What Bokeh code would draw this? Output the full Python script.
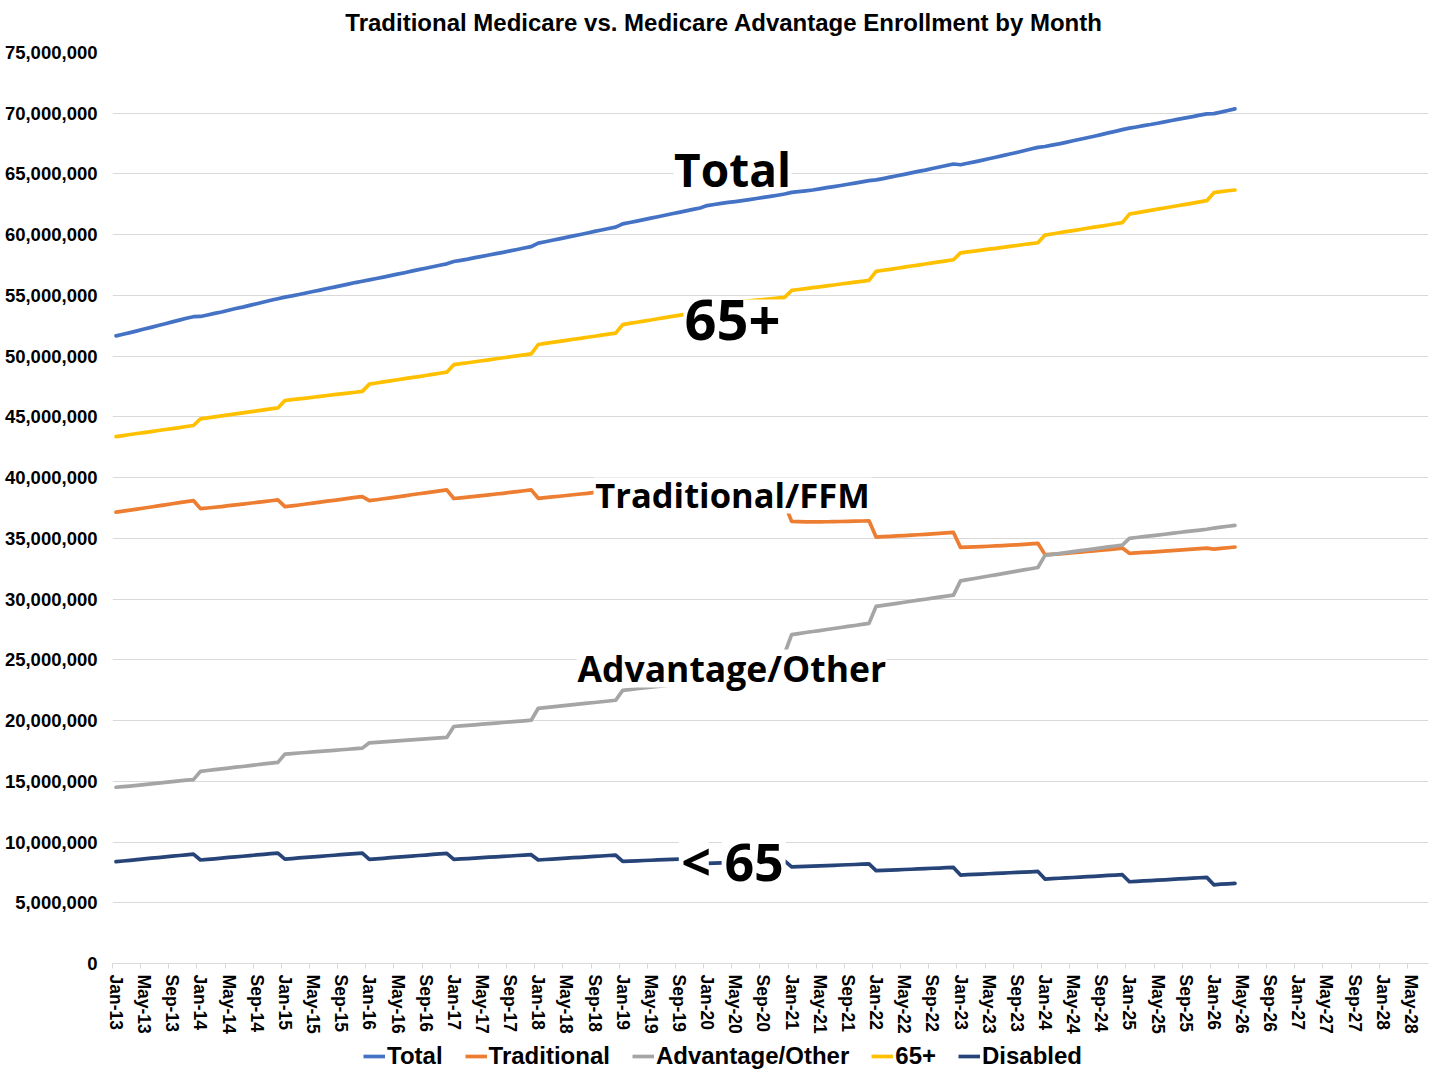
from bokeh.plotting import figure
from bokeh.layouts import column
from bokeh.models import (ColumnDataSource, Range1d, FixedTicker, NumeralTickFormatter,
                          Legend, LegendItem, Label)
from bokeh.embed import file_html
from bokeh.resources import INLINE

# ---------------- data (millions of enrollees, monthly Jan-13 .. Apr-26) ----------------
traditional = [
    37.16, 37.24, 37.33, 37.41, 37.50, 37.58, 37.67, 37.76, 37.85, 37.94, 38.03, 38.11,
    37.45, 37.50, 37.56, 37.62, 37.69, 37.76, 37.82, 37.89, 37.96, 38.03, 38.10, 38.17,
    37.62, 37.68, 37.75, 37.83, 37.90, 37.98, 38.06, 38.13, 38.21, 38.29, 38.37, 38.44,
    38.11, 38.18, 38.26, 38.34, 38.42, 38.50, 38.59, 38.67, 38.75, 38.83, 38.91, 38.99,
    38.28, 38.33, 38.39, 38.46, 38.52, 38.58, 38.65, 38.71, 38.78, 38.85, 38.92, 38.99,
    38.30, 38.35, 38.41, 38.47, 38.53, 38.59, 38.65, 38.71, 38.78, 38.84, 38.90, 38.95,
    38.40, 38.45, 38.50, 38.56, 38.61, 38.67, 38.72, 38.78, 38.83, 38.89, 38.94, 39.00,
    38.20, 38.17, 38.14, 38.10, 38.06, 38.02, 37.98, 37.95, 37.92, 37.89, 37.87, 37.85,
    36.40, 36.38, 36.36, 36.35, 36.36, 36.37, 36.38, 36.39, 36.40, 36.42, 36.43, 36.45,
    35.11, 35.14, 35.17, 35.20, 35.23, 35.27, 35.30, 35.33, 35.37, 35.41, 35.45, 35.49,
    34.26, 34.28, 34.30, 34.32, 34.35, 34.38, 34.41, 34.44, 34.47, 34.51, 34.55, 34.59,
    33.66, 33.69, 33.73, 33.77, 33.82, 33.87, 33.92, 33.97, 34.02, 34.08, 34.14, 34.20,
    33.77, 33.80, 33.84, 33.87, 33.91, 33.95, 33.99, 34.03, 34.07, 34.11, 34.16, 34.20,
    34.12, 34.17, 34.23, 34.29,
]

advantage = [
    14.51, 14.56, 14.61, 14.67, 14.73, 14.79, 14.85, 14.91, 14.97, 15.03, 15.09, 15.14,
    15.82, 15.89, 15.96, 16.02, 16.09, 16.16, 16.22, 16.29, 16.36, 16.43, 16.50, 16.56,
    17.24, 17.28, 17.33, 17.37, 17.42, 17.46, 17.51, 17.55, 17.60, 17.64, 17.69, 17.73,
    18.17, 18.21, 18.25, 18.29, 18.33, 18.37, 18.41, 18.45, 18.49, 18.53, 18.57, 18.61,
    19.51, 19.56, 19.60, 19.65, 19.70, 19.75, 19.79, 19.84, 19.89, 19.93, 19.98, 20.03,
    21.01, 21.07, 21.13, 21.19, 21.25, 21.31, 21.37, 21.43, 21.49, 21.55, 21.61, 21.67,
    22.49, 22.55, 22.62, 22.68, 22.75, 22.81, 22.88, 22.94, 23.01, 23.07, 23.14, 23.20,
    24.20, 24.32, 24.44, 24.56, 24.67, 24.79, 24.91, 25.03, 25.15, 25.27, 25.38, 25.50,
    27.08, 27.16, 27.25, 27.33, 27.41, 27.50, 27.58, 27.66, 27.75, 27.83, 27.92, 28.00,
    29.40, 29.48, 29.57, 29.65, 29.74, 29.82, 29.91, 29.99, 30.08, 30.16, 30.25, 30.33,
    31.50, 31.60, 31.70, 31.80, 31.90, 32.00, 32.10, 32.20, 32.30, 32.40, 32.50, 32.60,
    33.60, 33.68, 33.75, 33.83, 33.91, 33.99, 34.06, 34.14, 34.22, 34.30, 34.37, 34.45,
    35.00, 35.07, 35.14, 35.20, 35.27, 35.34, 35.41, 35.48, 35.55, 35.61, 35.68, 35.75,
    35.85, 35.92, 36.00, 36.07,
]

total = [
    51.67, 51.80, 51.94, 52.08, 52.23, 52.37, 52.52, 52.67, 52.82, 52.97, 53.12, 53.25,
    53.27, 53.39, 53.52, 53.64, 53.78, 53.92, 54.04, 54.18, 54.32, 54.46, 54.60, 54.73,
    54.86, 54.96, 55.08, 55.20, 55.32, 55.44, 55.57, 55.68, 55.81, 55.93, 56.06, 56.17,
    56.28, 56.39, 56.51, 56.63, 56.75, 56.87, 57.00, 57.12, 57.24, 57.36, 57.48, 57.60,
    57.79, 57.89, 57.99, 58.11, 58.22, 58.33, 58.44, 58.55, 58.67, 58.78, 58.90, 59.02,
    59.31, 59.42, 59.54, 59.66, 59.78, 59.90, 60.02, 60.14, 60.27, 60.39, 60.51, 60.62,
    60.89, 61.00, 61.12, 61.24, 61.36, 61.48, 61.60, 61.72, 61.84, 61.96, 62.08, 62.20,
    62.40, 62.49, 62.58, 62.66, 62.73, 62.81, 62.89, 62.98, 63.07, 63.16, 63.25, 63.35,
    63.48, 63.54, 63.61, 63.68, 63.77, 63.87, 63.96, 64.05, 64.15, 64.25, 64.35, 64.45,
    64.51, 64.62, 64.74, 64.85, 64.97, 65.09, 65.21, 65.32, 65.45, 65.57, 65.70, 65.82,
    65.76, 65.88, 66.00, 66.12, 66.25, 66.38, 66.51, 66.64, 66.77, 66.91, 67.05, 67.19,
    67.26, 67.37, 67.48, 67.60, 67.73, 67.86, 67.98, 68.11, 68.24, 68.38, 68.51, 68.65,
    68.77, 68.87, 68.98, 69.07, 69.18, 69.29, 69.40, 69.51, 69.62, 69.72, 69.84, 69.95,
    69.97, 70.09, 70.23, 70.36,
]

age65plus = [
    43.38, 43.46, 43.55, 43.63, 43.71, 43.79, 43.88, 43.96, 44.04, 44.12, 44.21, 44.29,
    44.84, 44.92, 45.00, 45.09, 45.17, 45.25, 45.33, 45.41, 45.49, 45.58, 45.66, 45.74,
    46.35, 46.42, 46.49, 46.55, 46.62, 46.69, 46.76, 46.83, 46.89, 46.96, 47.03, 47.10,
    47.70, 47.79, 47.88, 47.97, 48.06, 48.15, 48.23, 48.32, 48.41, 48.50, 48.59, 48.68,
    49.30, 49.38, 49.46, 49.54, 49.62, 49.70, 49.79, 49.87, 49.95, 50.03, 50.11, 50.19,
    50.96, 51.05, 51.13, 51.22, 51.30, 51.39, 51.47, 51.56, 51.64, 51.73, 51.81, 51.90,
    52.60, 52.70, 52.79, 52.89, 52.98, 53.08, 53.17, 53.27, 53.36, 53.46, 53.55, 53.65,
    54.20, 54.26, 54.32, 54.37, 54.43, 54.49, 54.55, 54.61, 54.66, 54.72, 54.78, 54.84,
    55.41, 55.49, 55.56, 55.64, 55.71, 55.79, 55.86, 55.94, 56.01, 56.09, 56.16, 56.24,
    56.98, 57.07, 57.15, 57.24, 57.33, 57.42, 57.50, 57.59, 57.68, 57.76, 57.85, 57.94,
    58.50, 58.58, 58.65, 58.73, 58.81, 58.88, 58.96, 59.04, 59.11, 59.19, 59.26, 59.34,
    59.97, 60.06, 60.16, 60.25, 60.34, 60.43, 60.53, 60.62, 60.71, 60.80, 60.90, 60.99,
    61.70, 61.80, 61.90, 62.00, 62.10, 62.20, 62.30, 62.40, 62.50, 62.60, 62.70, 62.80,
    63.46, 63.55, 63.62, 63.68,
]

disabled = [
    8.38, 8.44, 8.49, 8.55, 8.61, 8.67, 8.72, 8.78, 8.84, 8.89, 8.95, 9.01,
    8.52, 8.57, 8.62, 8.68, 8.73, 8.78, 8.83, 8.88, 8.94, 8.99, 9.04, 9.09,
    8.60, 8.64, 8.69, 8.73, 8.78, 8.82, 8.87, 8.91, 8.96, 9.00, 9.05, 9.09,
    8.57, 8.62, 8.66, 8.71, 8.75, 8.80, 8.84, 8.89, 8.93, 8.98, 9.02, 9.07,
    8.57, 8.61, 8.64, 8.68, 8.71, 8.75, 8.78, 8.82, 8.85, 8.89, 8.92, 8.96,
    8.52, 8.56, 8.59, 8.63, 8.67, 8.71, 8.74, 8.78, 8.82, 8.85, 8.89, 8.93,
    8.40, 8.43, 8.45, 8.48, 8.50, 8.53, 8.55, 8.58, 8.60, 8.63, 8.65, 8.68,
    8.25, 8.27, 8.29, 8.31, 8.33, 8.35, 8.36, 8.38, 8.40, 8.42, 8.43, 8.45,
    7.95, 7.97, 7.99, 8.02, 8.04, 8.06, 8.08, 8.11, 8.13, 8.15, 8.18, 8.20,
    7.64, 7.66, 7.69, 7.71, 7.74, 7.76, 7.79, 7.81, 7.84, 7.86, 7.89, 7.91,
    7.28, 7.31, 7.33, 7.36, 7.39, 7.42, 7.44, 7.47, 7.50, 7.53, 7.55, 7.58,
    6.95, 6.98, 7.02, 7.05, 7.08, 7.11, 7.15, 7.18, 7.21, 7.25, 7.28, 7.31,
    6.73, 6.76, 6.80, 6.83, 6.86, 6.89, 6.93, 6.96, 6.99, 7.03, 7.06, 7.09,
    6.48, 6.53, 6.56, 6.59,
]

# category axis: Jan-13 .. Jul-28 (labels every 4 months)
tick_months = ["Jan", "May", "Sep"]
tick_years = list(range(13, 29))
tick_labels = [f"{m}-{y:02d}" for y in tick_years for m in tick_months][:47]
n_categories = 187

series_names = ["Total", "Traditional", "Advantage/Other", "65+", "Disabled"]
series_colors = ["#4472C4", "#ED7D31", "#A5A5A5", "#FFC000", "#264478"]
series_values = [total, traditional, advantage, age65plus, disabled]

title_text = "Traditional Medicare vs. Medicare Advantage Enrollment by Month"

W = 1430
BL, BR = 112, 2
TITLE_H = 36


def strip(height):
    f = figure(width=W, height=height, output_backend="svg", toolbar_location=None,
               x_range=Range1d(0, 1), y_range=Range1d(0, 1), min_border=0,
               min_border_left=BL, min_border_right=BR)
    f.axis.visible = False
    f.grid.visible = False
    f.outline_line_color = None
    f.background_fill_color = "white"
    f.border_fill_color = "white"
    return f


# ---------------- title strip ----------------
tp = strip(TITLE_H)
tp.add_layout(Label(x=0.4647, y=(TITLE_H - 22) / TITLE_H, text=title_text, text_align="center",
                    text_baseline="middle", text_font="Liberation Sans",
                    text_font_style="bold", text_font_size="24px", text_color="black"))

# ---------------- main figure ----------------
p = figure(width=W, height=1040 - TITLE_H, output_backend="svg", toolbar_location=None,
           x_range=Range1d(-0.5, n_categories - 0.5), y_range=Range1d(0, 75_000_000),
           min_border_left=BL, min_border_right=BR, min_border_top=52 - TITLE_H,
           min_border_bottom=77)
p.background_fill_color = "white"
p.border_fill_color = "white"
p.outline_line_color = None

idx = list(range(len(total)))
source = ColumnDataSource(dict(x=idx, **{f"s{i}": [v * 1e6 for v in vals]
                                           for i, vals in enumerate(series_values)}))

for i, color in enumerate(series_colors):
    p.line("x", f"s{i}", source=source, line_color=color, line_width=3.7,
           line_join="round", line_cap="round")

# axes
label_positions = [4 * k for k in range(len(tick_labels))]
p.xaxis.ticker = FixedTicker(ticks=label_positions,
                             minor_ticks=[4 * k - 0.5 for k in range(len(tick_labels) + 1)])
p.xaxis.major_label_overrides = {pos: lab for pos, lab in zip(label_positions, tick_labels)}
p.xaxis.major_label_orientation = "vertical"
p.xaxis.major_tick_line_color = None
p.xaxis.major_tick_out = 0
p.xaxis.major_tick_in = 0
p.xaxis.minor_tick_line_color = "#D9D9D9"
p.xaxis.minor_tick_out = 5
p.xaxis.minor_tick_in = 0
p.xaxis.axis_line_color = "#D9D9D9"
p.xaxis.axis_line_width = 1
p.xaxis.major_label_standoff = 6
p.xaxis.major_label_text_font = "Liberation Sans"
p.xaxis.major_label_text_font_style = "bold"
p.xaxis.major_label_text_font_size = "17.5px"
p.xaxis.major_label_text_color = "black"

p.yaxis.ticker = FixedTicker(ticks=[k * 5_000_000 for k in range(16)])
p.yaxis.formatter = NumeralTickFormatter(format="0,0")
p.yaxis.axis_line_color = None
p.yaxis.major_tick_line_color = None
p.yaxis.minor_tick_line_color = None
p.yaxis.major_tick_out = 0
p.yaxis.major_label_standoff = 15
p.yaxis.major_label_text_font = "Liberation Sans"
p.yaxis.major_label_text_font_style = "bold"
p.yaxis.major_label_text_font_size = "18.5px"
p.yaxis.major_label_text_color = "black"

p.xgrid.grid_line_color = None
p.ygrid.grid_line_color = "#D9D9D9"
p.ygrid.grid_line_width = 1

# in-chart labels: white knock-out boxes (screen-sized) and bold text
knockouts = [  # (x, y, width_px, height_px)
    (87.6, 65.45e6, 118, 38),
    (87.6, 53.02e6, 98, 40),
    (87.6, 38.53e6, 278, 36),
    (87.5, 24.29e6, 310, 38),
    (82.1, 8.48e6, 30, 38),
    (90.6, 8.48e6, 64, 38),
]
p.rect(x=[k[0] for k in knockouts], y=[k[1] for k in knockouts],
       width=[k[2] for k in knockouts], height=[k[3] for k in knockouts],
       width_units="screen", height_units="screen",
       fill_color="white", line_color=None)

annotations = [
    ("Total", 87.6, 65.45e6, "46px"),
    ("65+", 87.6, 52.94e6, "56px"),
    ("Traditional/FFM", 87.6, 38.61e6, "34.5px"),
    ("Advantage/Other", 87.5, 24.29e6, "35.5px"),
    ("< 65", 87.6, 8.48e6, "52px"),
]
for text, ax, ay, fs in annotations:
    p.add_layout(Label(x=ax, y=ay, text=text, text_align="center", text_baseline="middle",
                       text_font="Open Sans", text_font_style="bold", text_font_size=fs,
                       text_color="black"))

# ---------------- legend strip ----------------
lg = strip(32)
leg_renderers = [lg.line("x", f"s{i}", source=source, line_color=c, line_width=3.7)
                 for i, c in enumerate(series_colors)]
legend = Legend(items=[LegendItem(label=n, renderers=[r]) for n, r in zip(series_names, leg_renderers)],
                orientation="horizontal", location=(251, 2),
                label_text_font="Liberation Sans", label_text_font_size="24px",
                label_text_font_style="bold", label_text_color="black",
                glyph_width=22, glyph_height=20, label_standoff=2, spacing=22,
                padding=0, margin=0, border_line_color=None, background_fill_alpha=0)
lg.add_layout(legend)

open("out.html", "w").write(file_html(column(tp, p, lg, spacing=0), INLINE))
